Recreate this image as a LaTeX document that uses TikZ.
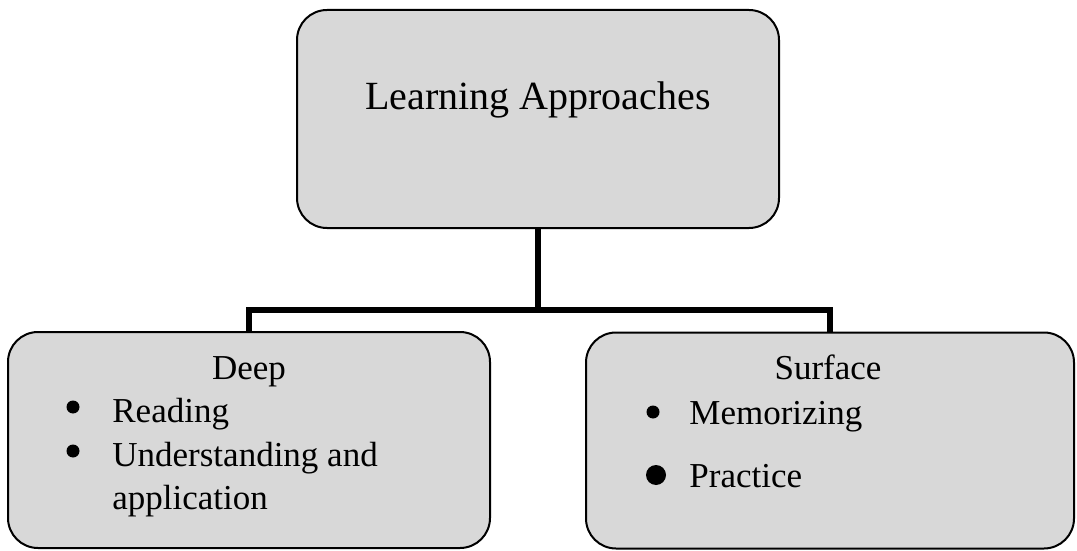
\documentclass[tikz,border=0pt]{standalone}
\usepackage{fontspec}
\setmainfont{Liberation Serif}
\definecolor{boxgray}{RGB}{216,216,216}

\begin{document}
\begin{tikzpicture}[x = 0.5pt, y = -0.5pt,
	box/.style = {draw, line width = 1pt, fill = boxgray, rounded corners = 15pt, minimum width = 241pt, minimum height = 108pt, inner sep = 0pt},
	txt/.style = {anchor = base, inner sep = 0pt, font = \fontsize{17.5}{21}\selectfont},
	item/.style = {txt, anchor = base west},
	dot/.style = {circle, fill = black, inner sep = 0pt, minimum size = 6.5pt},
	link/.style = {line width = 3pt}]
	 \useasboundingbox (0, 0) rectangle (1077, 551);
	 
	 \node[box, minimum height = 109pt] (approach) at (538, 119) {};
	 \node[box] (deep) at (249, 440) {};
	 \node[box, minimum width = 244pt] (surface) at (830, 440.5) {};
	 
	 \coordinate (split) at (538, 310);
	 \draw[link] (approach.south) -- (split);
	 \draw[link] (deep.north) |- (split) -| (surface.north);
	 
	 \node[txt, font = \fontsize{20}{24}\selectfont] (title) at (538, 110) {Learning Approaches};
	 
	 \node[txt] (deeplabel) at (249, 379) {Deep};
	 \node[dot] (d1) at (73, 407) {};
	 \node[item] (reading) at (112, 422) {Reading};
	 \node[dot] (d2) at (73, 451) {};
	 \node[item] (understanding) at (112, 466) {Understanding and};
	 \node[item] (application) at (112, 509) {application};
	 
	 \node[txt] (surfacelabel) at (828, 379) {Surface};
	 \node[dot] (s1) at (653, 412) {};
	 \node[item] (memorizing) at (689, 424) {Memorizing};
	 \node[dot, minimum size = 10pt] (s2) at (656, 475) {};
	 \node[item] (practice) at (689, 487) {Practice};
\end{tikzpicture}
\end{document}
